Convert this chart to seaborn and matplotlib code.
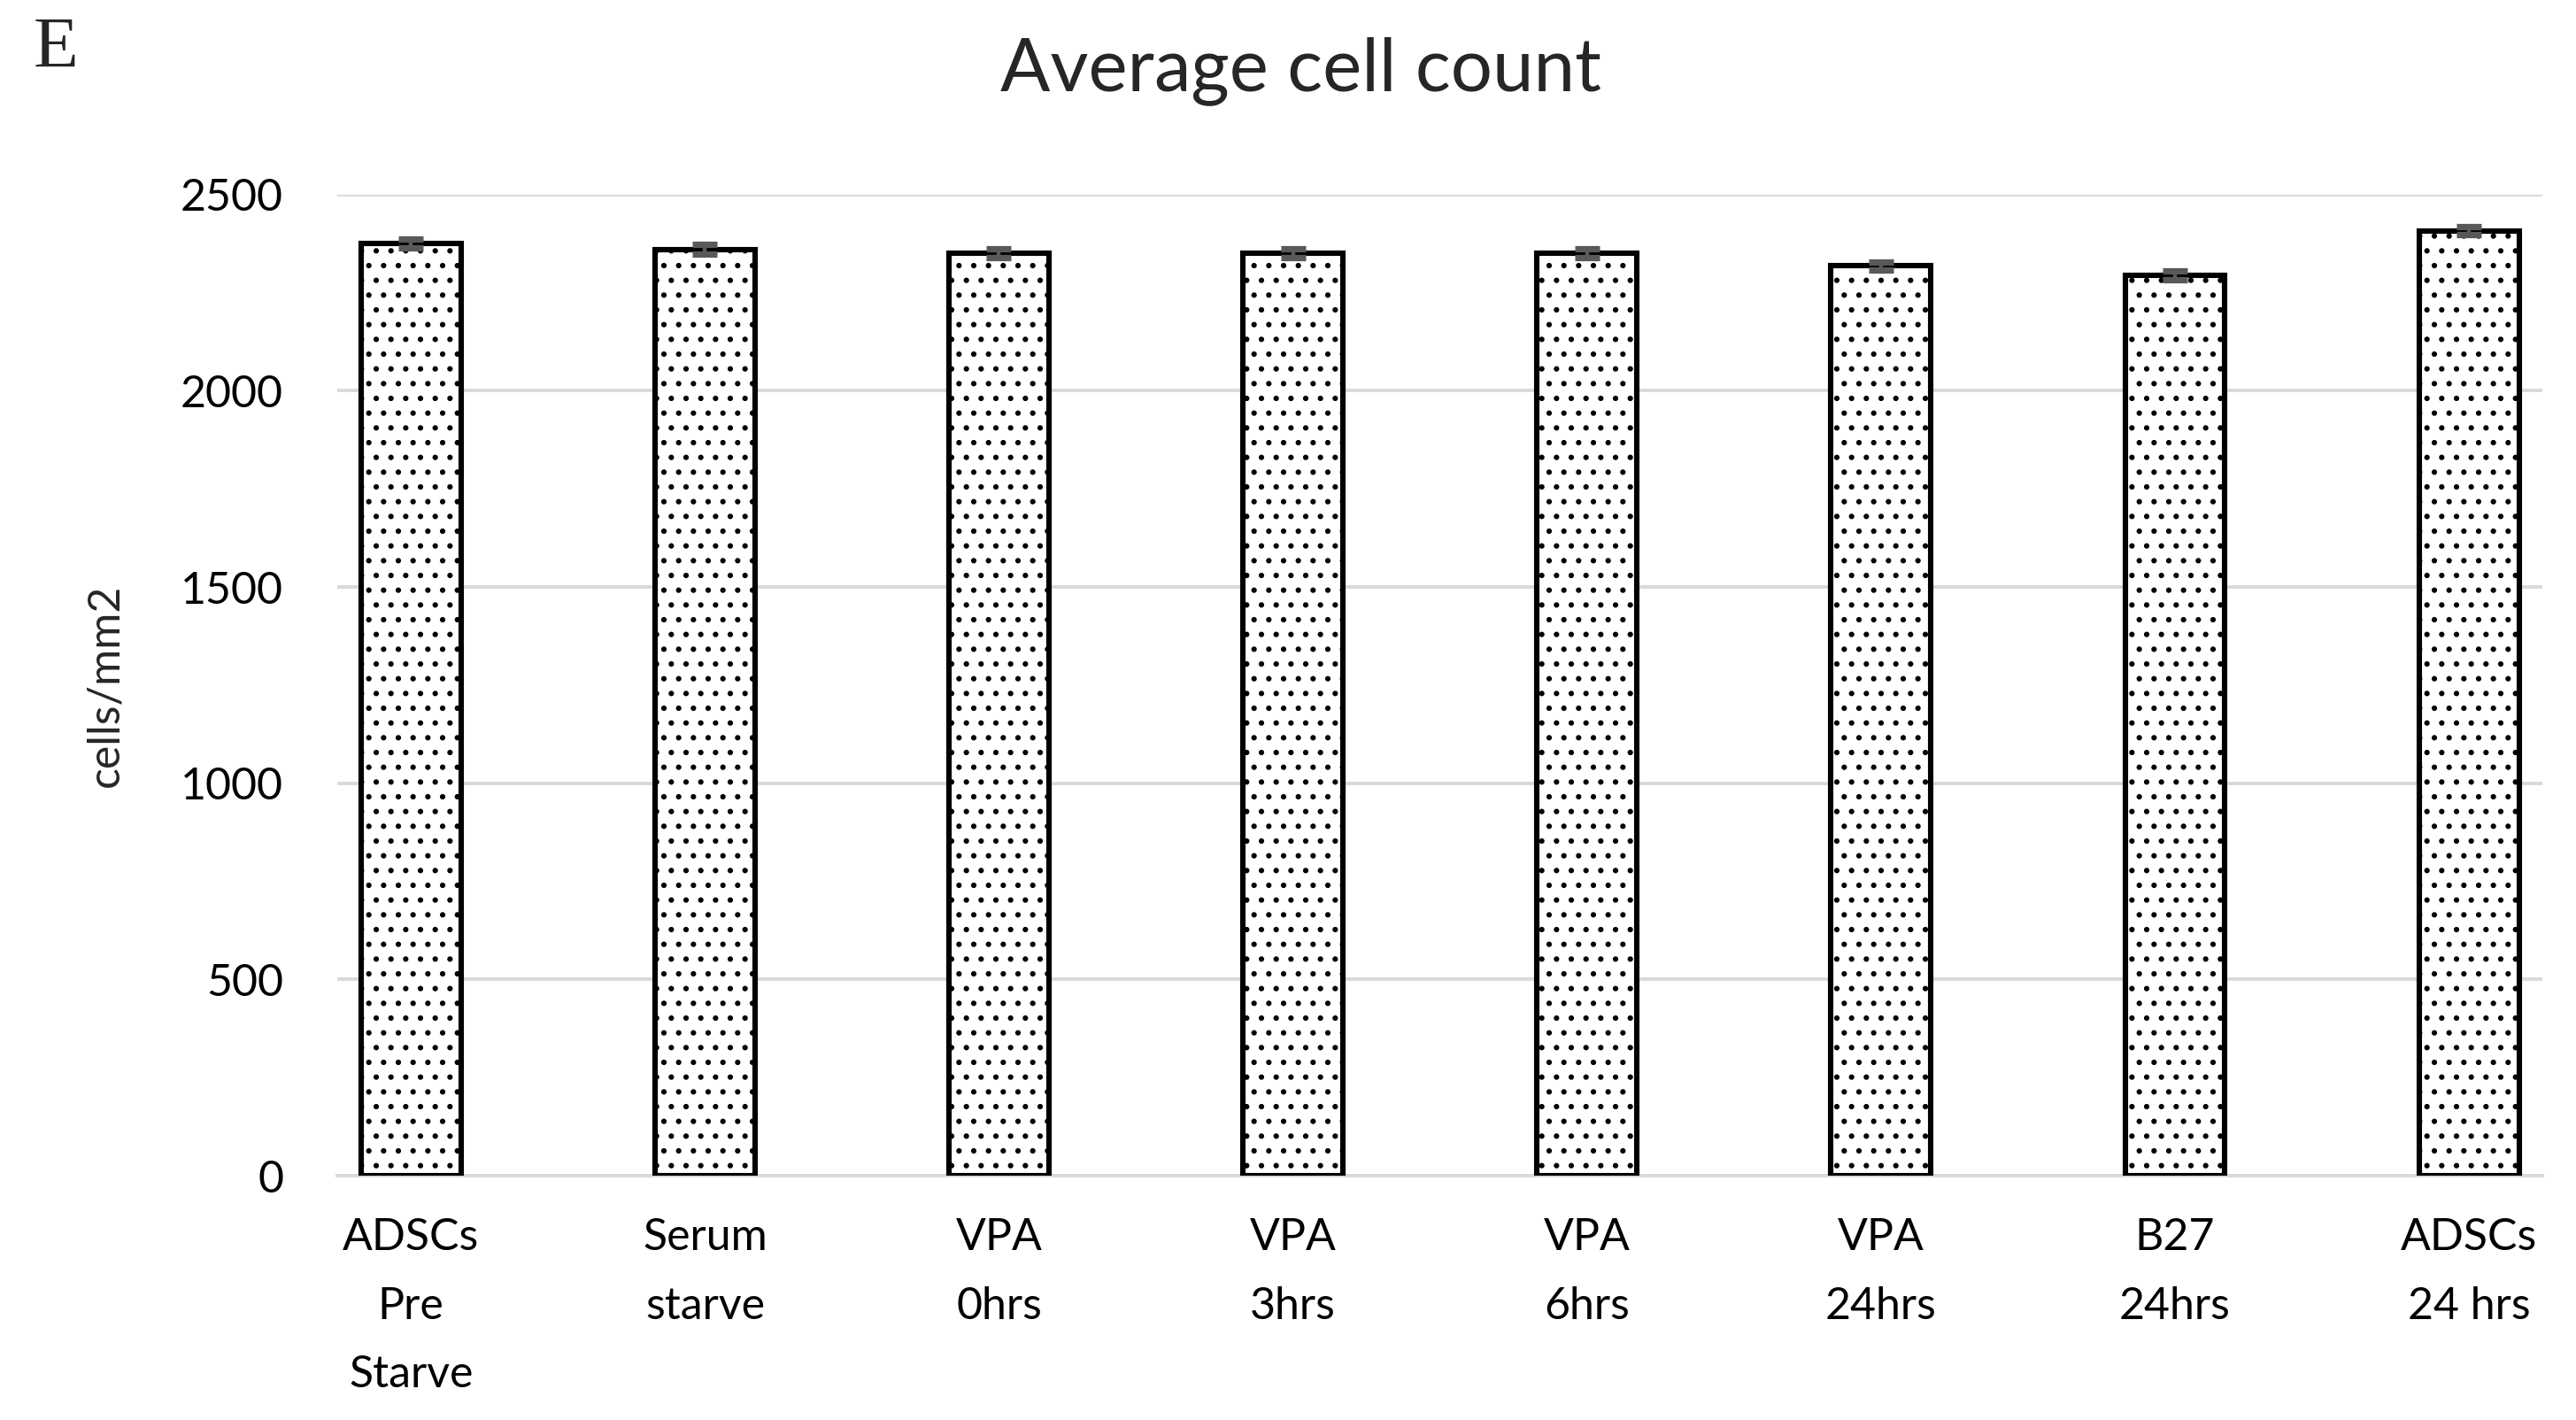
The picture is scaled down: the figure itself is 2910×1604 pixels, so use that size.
import pandas as pd
import matplotlib.pyplot as plt
import seaborn as sns
import numpy as np

# Data
groups = ['ADSCs\nPre\nStarve', 'Serum\nstarve', 'VPA\n0hrs', 'VPA\n3hrs',
          'VPA\n6hrs', 'VPA\n24hrs', 'B27\n24hrs', 'ADSCs\n24 hrs']
mean_counts = [2375, 2360, 2350, 2350, 2350, 2318, 2295, 2408]
err_counts = [12, 12, 11, 11, 11, 11, 11, 11]
y_ticks = [0, 500, 1000, 1500, 2000, 2500]

df = pd.DataFrame({'group': groups, 'count': mean_counts, 'err': err_counts})

sns.set_style('white')
plt.rcParams['font.family'] = ['Lato', 'DejaVu Sans']
plt.rcParams['hatch.linewidth'] = 1.0
plt.rcParams['hatch.color'] = 'black'

fig = plt.figure(figsize=(14.55, 8.02), dpi=200)
ax = fig.add_axes([0.131, 0.172, 0.856, 0.691])

sns.barplot(data=df, x='group', y='count', ax=ax, errorbar=None, width=0.34,
            color='white', edgecolor='black', linewidth=2.2, hatch='..',
            zorder=3)

ax.errorbar(np.arange(len(groups)), df['count'], yerr=df['err'], fmt='none',
            ecolor='#595959', elinewidth=1.6, capsize=5, capthick=2.6, zorder=4)

ax.set_ylim(0, 2500)
ax.set_xlim(-0.25, len(groups) - 0.75)
ax.set_yticks(y_ticks)
ax.set_yticklabels([str(t) for t in y_ticks])
ax.yaxis.grid(True, color='#d9d9d9', linewidth=1.4, zorder=0)
ax.set_axisbelow(True)
for s in ['top', 'right', 'left']:
    ax.spines[s].set_visible(False)
ax.spines['bottom'].set_color('#d9d9d9')
ax.spines['bottom'].set_linewidth(1.4)

ax.tick_params(axis='y', length=0, pad=22, labelsize=18, labelcolor='black')
ax.tick_params(axis='x', length=0, pad=17, labelsize=18, labelcolor='black')
ax.set_xticks(range(len(groups)))
ax.set_xticklabels(groups, linespacing=1.85, va='top')

ax.set_xlabel('')
ax.set_ylabel('cells/mm2', fontsize=18)
ax.yaxis.set_label_coords(-0.096, 0.5)

fig.text(0.505, 0.95, 'Average cell count', ha='center', va='center', fontsize=30)
fig.text(0.013, 0.965, 'E', ha='left', va='center', fontsize=30,
         family=['Liberation Serif', 'DejaVu Serif'])

plt.savefig('out.png', dpi=200)
